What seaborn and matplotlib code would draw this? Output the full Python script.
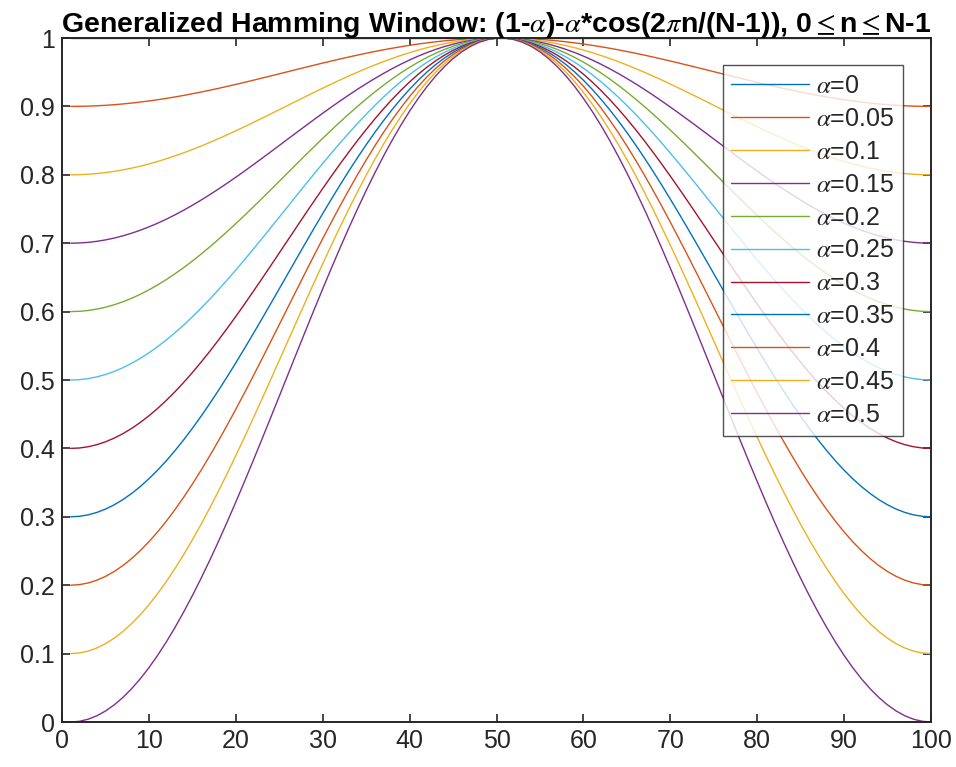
import numpy as np
import pandas as pd
import seaborn as sns
import matplotlib
matplotlib.use("Agg")
import matplotlib.pyplot as plt

sns.set_style("ticks")
plt.rcParams["font.family"] = ["Liberation Sans", "DejaVu Sans"]
plt.rcParams["mathtext.fontset"] = "stix"

# window parameters
alphas = [0, 0.05, 0.1, 0.15, 0.2, 0.25, 0.3, 0.35, 0.4, 0.45, 0.5]
N = 100
colors = ["#0072BD", "#D95319", "#EDB120", "#7E2F8E", "#77AC30", "#4DBEEE",
          "#A2142F", "#0072BD", "#D95319", "#EDB120", "#7E2F8E"]
xticks = list(range(0, 101, 10))
yticks = [0, 0.1, 0.2, 0.3, 0.4, 0.5, 0.6, 0.7, 0.8, 0.9, 1]
ytick_labels = ["0", "0.1", "0.2", "0.3", "0.4", "0.5", "0.6", "0.7", "0.8", "0.9", "1"]

n = np.arange(N)
frames = []
for a in alphas:
    w = (1 - a) - a * np.cos(2 * np.pi * n / (N - 1))
    label = r"$\alpha$=" + ("0" if a == 0 else f"{a:g}")
    frames.append(pd.DataFrame({"x": n + 1, "w": w, "alpha": label}))
df = pd.concat(frames, ignore_index=True)

fig = plt.figure(figsize=(9.56, 7.67), dpi=100)
ax = fig.add_axes([62 / 956, 1 - 722 / 767, (931 - 62) / 956, (722 - 38) / 767])

sns.lineplot(data=df, x="x", y="w", hue="alpha", palette=colors, ax=ax,
             linewidth=1.0, legend=True)

ax.set_xlim(0, 100)
ax.set_ylim(0, 1)
ax.set_xticks(xticks)
ax.set_yticks(yticks)
ax.set_yticklabels(ytick_labels)
ax.set_xlabel("")
ax.set_ylabel("")
ax.tick_params(direction="in", length=6, width=1.2, top=True, right=True,
               labelsize=18, colors="#262626", pad=5)
for s in ax.spines.values():
    s.set_visible(True)
    s.set_linewidth(1.4)
    s.set_color("#262626")

ax.set_title(r"Generalized Hamming Window: (1-$\alpha$)-$\alpha$*cos(2$\pi$n/(N-1)), 0$\leq$n$\leq$N-1",
             fontsize=20.5, fontweight="bold", pad=4, color="black")

leg = ax.legend(loc="upper right", bbox_to_anchor=(0.968, 0.960), fontsize=18,
                frameon=True, fancybox=False, handlelength=3.1, handletextpad=0.3,
                labelspacing=0.355, borderpad=0.35, borderaxespad=0.0,
                edgecolor="#262626")
leg.get_frame().set_linewidth(1.0)
for line in leg.get_lines():
    line.set_linewidth(1.0)

fig.savefig("out.png", dpi=100, facecolor="white")
